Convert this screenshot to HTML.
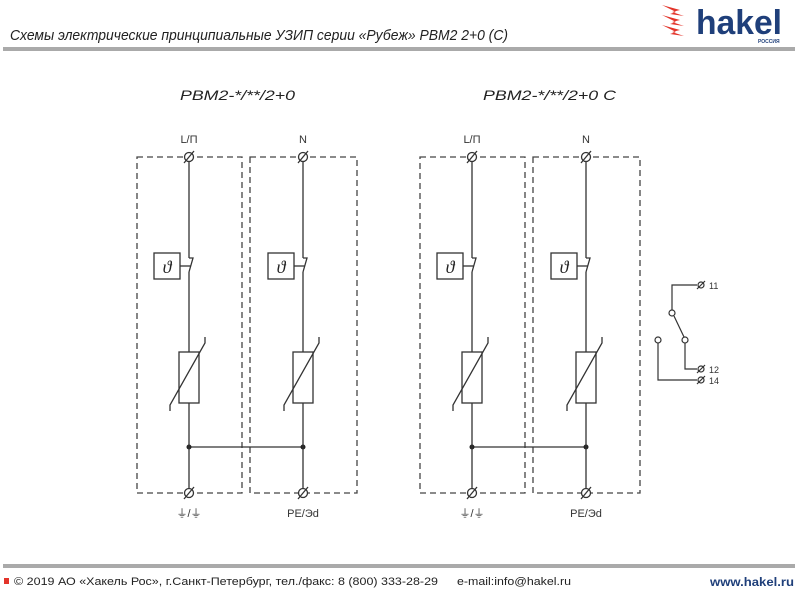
<!DOCTYPE html>
<html><head><meta charset="utf-8"><style>
body{margin:0;width:800px;height:600px;background:#fff;overflow:hidden;font-family:"Liberation Sans",sans-serif}
</style></head><body>
<svg width="800" height="600" viewBox="0 0 800 600" xmlns="http://www.w3.org/2000/svg">
<text x="10" y="40" font-family="Liberation Sans, sans-serif" font-style="italic" font-size="15" fill="#222" textLength="498" lengthAdjust="spacingAndGlyphs">Схемы электрические принципиальные УЗИП серии «Рубеж» РВМ2 2+0 (С)</text>
<rect x="3" y="47" width="792" height="4" fill="#aaa"/>
<g fill="#e3342a">
<polygon points="662,5 680,10 672,12 684,16 670,14 676,12"/>
<polygon points="662,15 680,20 672,22 684,26 670,24 676,22"/>
<polygon points="662,25 680,30 672,32 684,36 670,34 676,32"/>
</g>
<text x="696" y="34" font-family="Liberation Sans, sans-serif" font-weight="bold" font-size="34" fill="#1f3f7a" textLength="86" lengthAdjust="spacingAndGlyphs">hakel</text>
<text x="758" y="43" font-size="5" font-weight="bold" fill="#1f3f7a">РОССИЯ</text>

<text x="180" y="100" font-style="italic" font-size="14" fill="#222" textLength="115" lengthAdjust="spacingAndGlyphs">PBM2-*/**/2+0</text>
<text x="483" y="100" font-style="italic" font-size="14" fill="#222" textLength="133" lengthAdjust="spacingAndGlyphs">PBM2-*/**/2+0  C</text>

<defs>
<g id="pole" stroke="#333" fill="none" stroke-width="1.3">
<line x1="0" y1="157" x2="0" y2="258"/>
<polyline points="0,258 4,258 0,272"/>
<line x1="0" y1="272" x2="0" y2="352"/>
<line x1="-9" y1="266" x2="2" y2="266"/>
<rect x="-35" y="253" width="26" height="26" fill="#fff"/>
<text x="-22" y="273" font-family="Liberation Serif, serif" font-style="italic" font-size="18" fill="#222" stroke="none" text-anchor="middle">ϑ</text>
<rect x="-10" y="352" width="20" height="51"/>
<polyline points="-19,411 -19,405 16,343 16,337"/>
<line x1="0" y1="403" x2="0" y2="493"/>
<circle cx="0" cy="157" r="4.5" fill="#fff"/>
<line x1="-5" y1="163" x2="5" y2="151"/>
<circle cx="0" cy="493" r="4.5" fill="#fff"/>
<line x1="-5" y1="499" x2="5" y2="487"/>
</g>
<g id="grp">
<rect x="137" y="157" width="105" height="336" fill="none" stroke="#444" stroke-width="1.3" stroke-dasharray="6,4"/>
<rect x="250" y="157" width="107" height="336" fill="none" stroke="#444" stroke-width="1.3" stroke-dasharray="6,4"/>
<line x1="189" y1="447" x2="303" y2="447" stroke="#333" stroke-width="1.3"/>
<circle cx="189" cy="447" r="2.5" fill="#222"/>
<circle cx="303" cy="447" r="2.5" fill="#222"/>
<use href="#pole" x="189"/>
<use href="#pole" x="303"/>
<text x="189" y="143" font-size="11" fill="#333" text-anchor="middle">L/Π</text>
<text x="303" y="143" font-size="11" fill="#333" text-anchor="middle">N</text>
<text x="189" y="517" font-size="11" fill="#333" text-anchor="middle">⏚/⏚</text>
<text x="303" y="517" font-size="11" fill="#333" text-anchor="middle">PE/Эd</text>
</g>
</defs>
<use href="#grp"/>
<use href="#grp" x="283"/>

<g stroke="#333" fill="none" stroke-width="1.2">
<polyline points="697,285 672,285 672,310"/>
<line x1="674" y1="316" x2="684" y2="337"/>
<polyline points="685,343 685,369 697,369"/>
<polyline points="658,343 658,380 697,380"/>
<circle cx="672" cy="313" r="3" fill="#fff"/>
<circle cx="685" cy="340" r="3" fill="#fff"/>
<circle cx="658" cy="340" r="3" fill="#fff"/>
<circle cx="701" cy="285" r="3" fill="#fff"/><line x1="697" y1="289" x2="705" y2="281"/>
<circle cx="701" cy="369" r="3" fill="#fff"/><line x1="697" y1="373" x2="705" y2="365"/>
<circle cx="701" cy="380" r="3" fill="#fff"/><line x1="697" y1="384" x2="705" y2="376"/>
</g>
<text x="709" y="289" font-size="9" fill="#333">11</text>
<text x="709" y="373" font-size="9" fill="#333">12</text>
<text x="709" y="384" font-size="9" fill="#333">14</text>

<rect x="3" y="564" width="792" height="4" fill="#aaa"/>
<rect x="4" y="578" width="5" height="6" fill="#e3342a"/>
<text x="14" y="585" font-size="11" fill="#222" textLength="424" lengthAdjust="spacingAndGlyphs">© 2019 АО «Хакель Рос», г.Санкт-Петербург, тел./факс: 8 (800) 333-28-29</text>
<text x="457" y="585" font-size="11" fill="#222" textLength="114" lengthAdjust="spacingAndGlyphs">e-mail:info@hakel.ru</text>
<text x="710" y="586" font-size="12" font-weight="bold" fill="#1f3f7a" textLength="84" lengthAdjust="spacingAndGlyphs">www.hakel.ru</text>
</svg>
</body></html>
